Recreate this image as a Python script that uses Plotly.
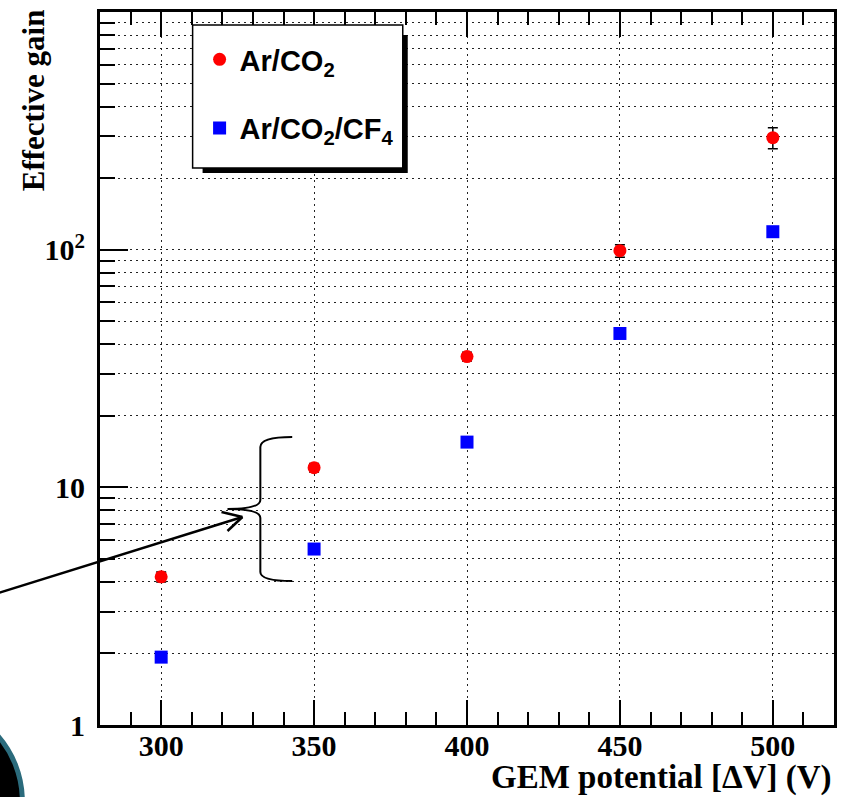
import plotly.graph_objects as go

# GEM effective gain versus potential difference for two gas mixtures
voltage = [300, 350, 400, 450, 500]
gain_ar_co2 = [4.2, 12.1, 35.5, 99, 296]
err_ar_co2 = [0.2, 0.5, 1.5, 6, 30]
gain_ar_co2_cf4 = [1.93, 5.5, 15.5, 44.4, 119]
err_ar_co2_cf4 = [0.05, 0.2, 0.5, 1.5, 4]

name_ar_co2 = "Ar/CO<sub>2</sub>"
name_ar_co2_cf4 = "Ar/CO<sub>2</sub>/CF<sub>4</sub>"

y_major = [1, 10, 100]
y_major_text = ["1", "10", "10<sup>2</sup>"]
y_minor = [m * d for d in (1, 10, 100) for m in range(2, 10)]

W, H = 842, 797
ML, MR, MT, MB = 100, 5, 12, 72
PW, PH = W - ML - MR, H - MT - MB


def px(x):
    return (x - ML) / PW


def py(y):
    return (H - MB - y) / PH


serif = "Liberation Serif"
sans = "Liberation Sans"

fig = go.Figure()
fig.add_trace(go.Scatter(
    x=voltage, y=gain_ar_co2, mode="markers", name=name_ar_co2,
    legendgroup="a",
    marker=dict(symbol="circle", size=13, color="#ff0000"),
    error_y=dict(type="data", array=err_ar_co2, color="black",
                 thickness=1.5, width=5),
))
fig.add_trace(go.Scatter(
    x=voltage, y=gain_ar_co2_cf4, mode="markers", name=name_ar_co2_cf4,
    legendgroup="b",
    marker=dict(symbol="square", size=13, color="#0000ff"),
    error_y=dict(type="data", array=err_ar_co2_cf4, color="black",
                 thickness=1.5, width=5),
))

grid_dash = "2px,4px"
grid_color = "#222222"

fig.update_xaxes(
    range=[280, 520], tickmode="linear", tick0=300, dtick=50,
    ticks="inside", ticklen=25, tickwidth=2, tickcolor="black",
    showline=True, linewidth=3, linecolor="black", mirror="ticks",
    showgrid=True, gridcolor=grid_color, gridwidth=1.2, griddash=grid_dash,
    zeroline=False, ticklabelstandoff=-8,
    tickfont=dict(family=serif, size=30, color="black", weight="bold"),
    minor=dict(dtick=10, tick0=300, ticks="inside", ticklen=13,
               tickwidth=2, tickcolor="black", showgrid=False),
)
fig.update_yaxes(
    type="log", range=[0, 3],
    tickmode="array", tickvals=y_major, ticktext=y_major_text,
    ticks="inside", ticklen=28, tickwidth=2, tickcolor="black",
    showline=True, linewidth=3, linecolor="black", mirror=True,
    showgrid=True, gridcolor=grid_color, gridwidth=1.2, griddash=grid_dash,
    zeroline=False, ticklabelstandoff=6,
    tickfont=dict(family=serif, size=30, color="black", weight="bold"),
    minor=dict(tickmode="array", tickvals=y_minor, ticks="inside",
               ticklen=15, tickwidth=2, tickcolor="black",
               showgrid=True, gridcolor=grid_color, gridwidth=1.2,
               griddash=grid_dash),
)

shapes = []
# legend frame with its drop shadow
shapes.append(dict(type="rect", xref="paper", yref="paper",
                   x0=px(203), x1=px(409), y0=py(173), y1=py(35),
                   fillcolor="black", line=dict(width=0), layer="above"))
shapes.append(dict(type="rect", xref="paper", yref="paper",
                   x0=px(193), x1=px(404), y0=py(168), y1=py(25),
                   fillcolor="white", line=dict(color="black", width=1.5),
                   layer="above"))
# curly brace grouping the 350 V points
brace = (f"M {px(293)} {py(437)} "
         f"Q {px(261)} {py(437)} {px(261)} {py(447)} "
         f"L {px(261)} {py(500)} "
         f"Q {px(261)} {py(509)} {px(228)} {py(509)} "
         f"Q {px(261)} {py(509)} {px(261)} {py(518)} "
         f"L {px(261)} {py(572)} "
         f"Q {px(261)} {py(581)} {px(293)} {py(581)}")
shapes.append(dict(type="path", xref="paper", yref="paper", path=brace,
                   line=dict(color="black", width=2), layer="above"))
# arrow pointing at the brace
shapes.append(dict(type="line", xref="paper", yref="paper",
                   x0=px(-2), y0=py(593), x1=px(243), y1=py(517),
                   line=dict(color="black", width=2.5), layer="above"))
shapes.append(dict(type="line", xref="paper", yref="paper",
                   x0=px(243), y0=py(517), x1=px(222), y1=py(512),
                   line=dict(color="black", width=2.5), layer="above"))
shapes.append(dict(type="line", xref="paper", yref="paper",
                   x0=px(243), y0=py(517), x1=px(228), y1=py(531),
                   line=dict(color="black", width=2.5), layer="above"))
# dark round badge at the bottom-left corner
shapes.append(dict(type="circle", xref="paper", yref="paper",
                   x0=px(-176), x1=px(22), y0=py(900), y1=py(702),
                   fillcolor="black", line=dict(color="#2b6b7c", width=5),
                   layer="above"))

annotations = [
    dict(text="<b>Effective gain</b>", xref="paper", yref="paper",
         x=px(33), y=py(100), xanchor="center", yanchor="middle",
         textangle=-90, showarrow=False,
         font=dict(family=serif, size=31, color="black")),
    dict(text="<b>GEM potential [ΔV] (V)</b>", xref="paper", yref="paper",
         x=px(837), y=py(777), xanchor="right", yanchor="middle",
         showarrow=False,
         font=dict(family=serif, size=33, color="black")),
]

fig.update_layout(
    width=W, height=H,
    margin=dict(l=ML, r=MR, t=MT, b=MB, pad=0),
    paper_bgcolor="white", plot_bgcolor="white",
    showlegend=True,
    legend=dict(x=px(200), y=py(34), xanchor="left", yanchor="top",
                bgcolor="rgba(0,0,0,0)", borderwidth=0,
                font=dict(family=sans, size=29, color="black", weight="bold"),
                tracegroupgap=28, itemsizing="trace"),
    shapes=shapes, annotations=annotations,
)

fig.write_html("out.html")
